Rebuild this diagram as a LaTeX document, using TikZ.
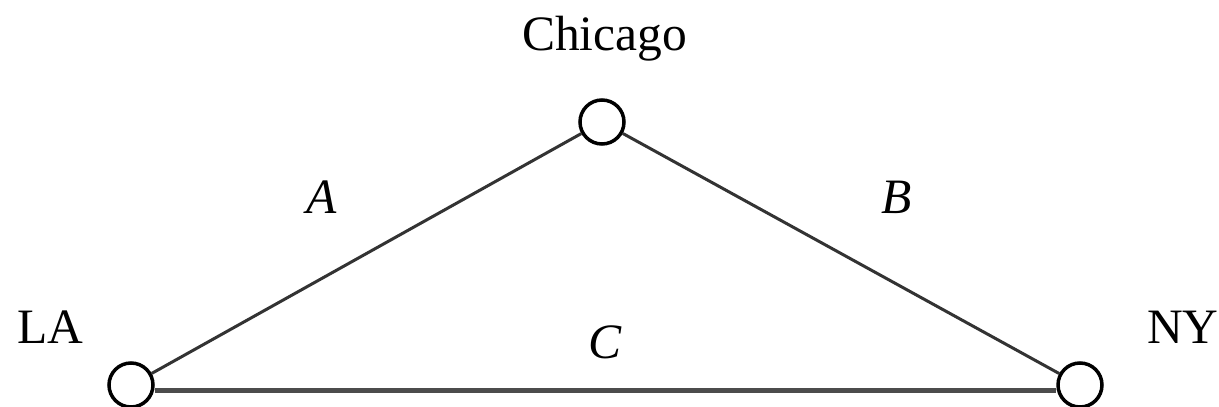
\documentclass[tikz,border=0pt]{standalone}
\usepackage{fontspec}
\setmainfont{Liberation Serif}
\begin{document}
\begin{tikzpicture}[x=1pt,y=-1pt,
  city/.style={circle,draw=black,fill=white,line width=3.5pt,minimum size=44pt,inner sep=0pt},
  lbl/.style={font=\fontsize{49.5}{55}\selectfont,inner sep=0pt},
  elbl/.style={font=\fontsize{49.5}{55}\selectfont\itshape,inner sep=0pt,anchor=base},
  road/.style={draw=black!80,line width=3pt}]
\useasboundingbox (0,0) rectangle (1219,407);
\node[city] (chi) at (602,122) {};
\node[city] (la) at (131,385) {};
\node[city] (ny) at (1080,385) {};
\draw[road] (la) -- (chi);
\draw[road] (chi) -- (ny);
\draw[road,draw=black!70,line width=5pt] ([yshift=-5pt]la.east) -- ([yshift=-5pt]ny.west);
\node[lbl,anchor=base west] (tchi) at (522,50) {Chicago};
\node[lbl,anchor=base west] (tla) at (17,343) {LA};
\node[lbl,anchor=base west] (tny) at (1147,343) {NY};
\node[elbl] (ta) at (322,213) {A};
\node[elbl] (tb) at (897,213) {B};
\node[elbl] (tc) at (605,358) {C};
\end{tikzpicture}
\end{document}
